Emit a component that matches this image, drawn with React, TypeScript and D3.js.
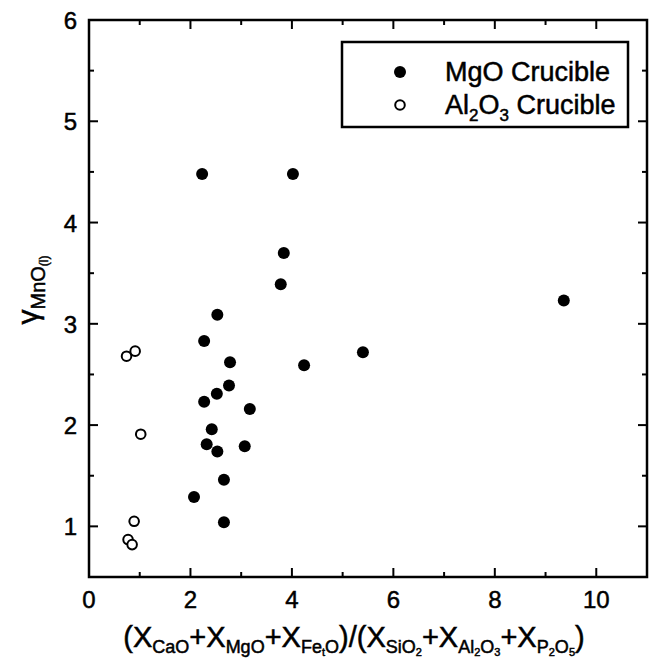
import React from "react";
import * as d3 from "d3";

const mgoX = [2.23, 4.02, 3.84, 3.78, 2.53, 2.27, 2.78, 4.24, 2.76, 2.52, 2.27, 3.17, 2.42, 2.32, 2.53, 3.07, 2.66, 2.07, 2.66, 5.40, 9.36];
const mgoY = [4.48, 4.48, 3.70, 3.39, 3.09, 2.83, 2.62, 2.59, 2.39, 2.31, 2.23, 2.16, 1.96, 1.81, 1.74, 1.79, 1.46, 1.29, 1.04, 2.72, 3.23];
const alX = [0.74, 0.91, 1.02, 0.89, 0.77, 0.85];
const alY = [2.68, 2.73, 1.91, 1.05, 0.87, 0.82];
const xTicks = [0, 2, 4, 6, 8, 10];
const xMinor = [1, 3, 5, 7, 9, 11];
const yTicks = [1, 2, 3, 4, 5, 6];
const yMinor = [0.5, 1.5, 2.5, 3.5, 4.5, 5.5];

const W = 651, H = 664;
const L = 89, R = 647, T = 20, B = 577;
const FONT = "Liberation Sans, Arial, sans-serif";

export default function App() {
  const x = d3.scaleLinear().domain([0, 11]).range([L, R]);
  const y = d3.scaleLinear().domain([0.5, 6]).range([B, T]);
  const major = 9, minor = 5;
  const ts = { stroke: "#000", strokeWidth: 0.5 } as any;
  return (
    <svg width={W} height={H} style={{ position: "absolute", left: 0, top: 0 }} fontFamily={FONT}>
      <rect x={0} y={0} width={W} height={H} fill="#fff" />
      {xTicks.map((t) => (
        <g key={"xt" + t}>
          <line x1={x(t)} x2={x(t)} y1={B} y2={B - major} stroke="#000" strokeWidth={2} />
          <line x1={x(t)} x2={x(t)} y1={T} y2={T + major} stroke="#000" strokeWidth={2} />
          <text x={x(t)} y={B + 31} textAnchor="middle" fontSize={24} {...ts}>{t}</text>
        </g>
      ))}
      {xMinor.map((t) => (
        <g key={"xm" + t}>
          <line x1={x(t)} x2={x(t)} y1={B} y2={B - minor} stroke="#000" strokeWidth={2} />
          <line x1={x(t)} x2={x(t)} y1={T} y2={T + minor} stroke="#000" strokeWidth={2} />
        </g>
      ))}
      {yTicks.map((t) => (
        <g key={"yt" + t}>
          <line x1={L} x2={L + major} y1={y(t)} y2={y(t)} stroke="#000" strokeWidth={2} />
          <line x1={R} x2={R - major} y1={y(t)} y2={y(t)} stroke="#000" strokeWidth={2} />
          <text x={L - 12} y={y(t) + 9} textAnchor="end" fontSize={24} {...ts}>{t}</text>
        </g>
      ))}
      {yMinor.map((t) => (
        <g key={"ym" + t}>
          <line x1={L} x2={L + minor} y1={y(t)} y2={y(t)} stroke="#000" strokeWidth={2} />
          <line x1={R} x2={R - minor} y1={y(t)} y2={y(t)} stroke="#000" strokeWidth={2} />
        </g>
      ))}
      <rect x={L} y={T} width={R - L} height={B - T} fill="none" stroke="#000" strokeWidth={2.5} />
      {mgoX.map((v, i) => (
        <circle key={"m" + i} cx={x(v)} cy={y(mgoY[i])} r={6} fill="#000" />
      ))}
      {alX.map((v, i) => (
        <circle key={"a" + i} cx={x(v)} cy={y(alY[i])} r={4.8} fill="#fff" stroke="#000" strokeWidth={2} />
      ))}
      <rect x={342} y={42} width={286} height={85} fill="#fff" stroke="#000" strokeWidth={2.5} />
      <circle cx={400} cy={72} r={6} fill="#000" />
      <circle cx={400} cy={105} r={4.8} fill="#fff" stroke="#000" strokeWidth={2} />
      <text x={445} y={81} fontSize={27} {...ts}>MgO Crucible</text>
      <text x={445} y={114} fontSize={27} {...ts}>
        Al<tspan fontSize={17} dy={7}>2</tspan><tspan dy={-7}>O</tspan><tspan fontSize={17} dy={7}>3</tspan><tspan dy={-7}> Crucible</tspan>
      </text>
      <text x={(L + R) / 2 - 14} y={647} textAnchor="middle" fontSize={29} {...ts}>
        (X<tspan fontSize={18} dy={6}>CaO</tspan>
        <tspan dy={-6}>+X</tspan><tspan fontSize={18} dy={6}>MgO</tspan>
        <tspan dy={-6}>+X</tspan><tspan fontSize={18} dy={6}>Fe</tspan><tspan fontSize={11} dy={3}>t</tspan><tspan fontSize={18} dy={-3}>O</tspan>
        <tspan dy={-6}>)/(X</tspan><tspan fontSize={18} dy={6}>SiO</tspan><tspan fontSize={11} dy={3}>2</tspan>
        <tspan dy={-9}>+X</tspan><tspan fontSize={18} dy={6}>Al</tspan><tspan fontSize={11} dy={3}>2</tspan><tspan fontSize={18} dy={-3}>O</tspan><tspan fontSize={11} dy={3}>3</tspan>
        <tspan dy={-9}>+X</tspan><tspan fontSize={18} dy={6}>P</tspan><tspan fontSize={11} dy={3}>2</tspan><tspan fontSize={18} dy={-3}>O</tspan><tspan fontSize={11} dy={3}>5</tspan>
        <tspan dy={-9}>)</tspan>
      </text>
      <text transform="translate(38,290) rotate(-90)" textAnchor="middle" fontSize={30} {...ts}>
        γ<tspan fontSize={20} dy={7}>MnO</tspan><tspan fontSize={12} dy={3}>(l)</tspan>
      </text>
    </svg>
  );
}
